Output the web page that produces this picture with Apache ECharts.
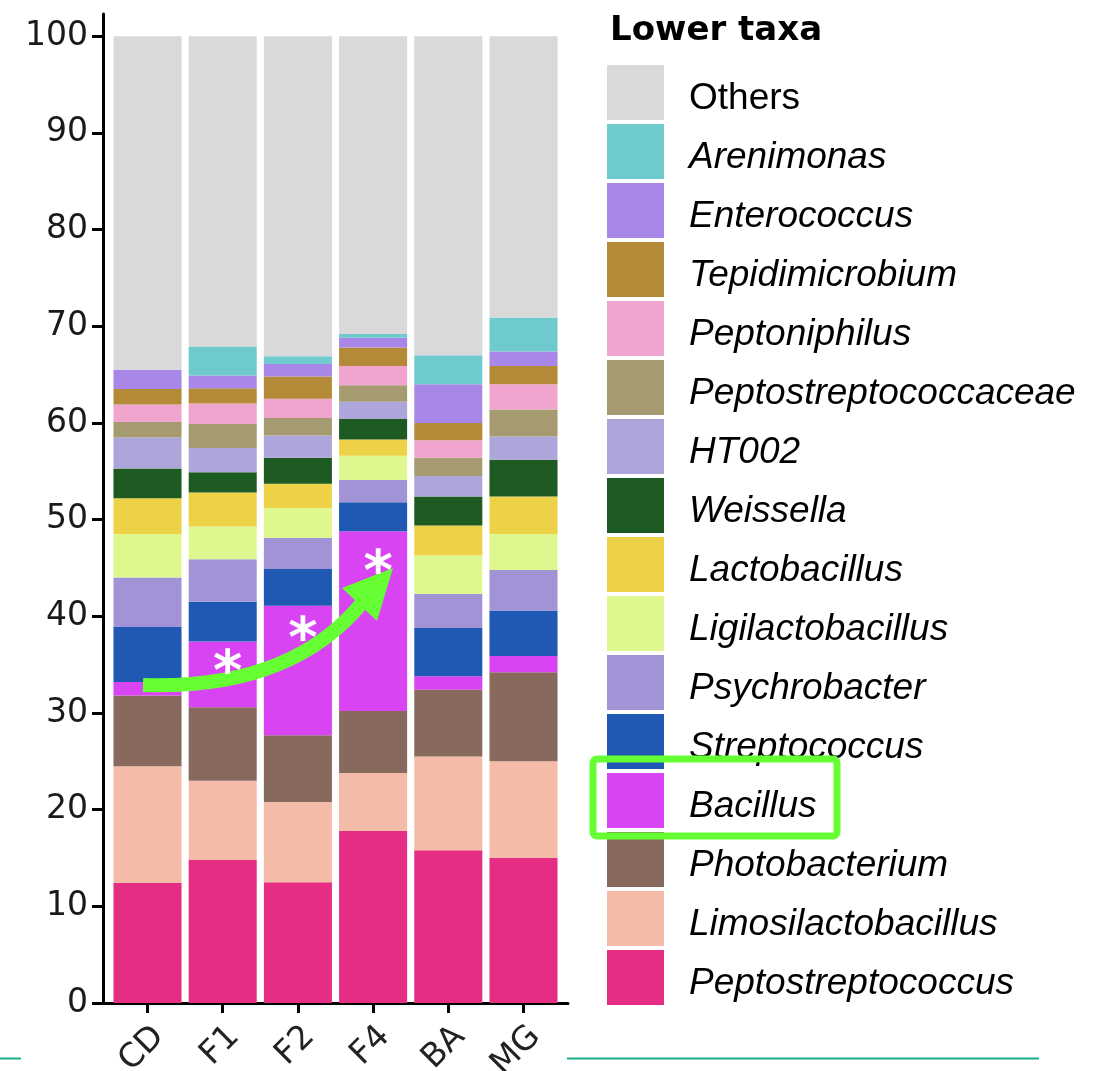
<!DOCTYPE html>
<html>
<head>
<meta charset="utf-8">
<title>Lower taxa</title>
<script src="https://cdn.jsdelivr.net/npm/echarts@6/dist/echarts.min.js"></script>
<style>
  html, body { margin: 0; padding: 0; background: #fff; }
  #chart { width: 1109px; height: 1071px; }
</style>
</head>
<body>
<div id="chart"></div>
<script>
// Samples on the x axis
const categories = ['CD', 'F1', 'F2', 'F4', 'BA', 'MG'];

// Relative abundance (%) per taxon, listed from the bottom of each stack upwards
const peptostreptococcus    = [12.4, 14.8, 12.5, 17.8, 15.8, 15.0];
const limosilactobacillus   = [12.1,  8.2,  8.3,  6.0,  9.7, 10.0];
const photobacterium        = [ 7.3,  7.6,  6.9,  6.4,  6.9,  9.2];
const bacillus              = [ 1.4,  6.8, 13.4, 18.6,  1.4,  1.7];
const streptococcus         = [ 5.7,  4.1,  3.8,  3.0,  5.0,  4.7];
const psychrobacter         = [ 5.1,  4.4,  3.2,  2.3,  3.5,  4.2];
const ligilactobacillus     = [ 4.5,  3.4,  3.1,  2.5,  4.0,  3.7];
const lactobacillus         = [ 3.7,  3.5,  2.5,  1.7,  3.1,  3.9];
const weissella             = [ 3.1,  2.1,  2.7,  2.1,  3.0,  3.8];
const ht002                 = [ 3.2,  2.5,  2.3,  1.8,  2.1,  2.4];
const peptostreptococcaceae = [ 1.6,  2.5,  1.8,  1.7,  1.9,  2.8];
const peptoniphilus         = [ 1.8,  2.1,  2.0,  2.0,  1.8,  2.6];
const tepidimicrobium       = [ 1.6,  1.6,  2.3,  1.9,  1.8,  1.9];
const enterococcus          = [ 2.0,  1.3,  1.3,  1.0,  4.0,  1.5];
const arenimonas            = [ 0.0,  3.0,  0.8,  0.4,  3.0,  3.5];
const others                = [34.5, 32.1, 33.1, 30.8, 33.0, 29.1];

// Y axis tick labels
const yTicks = [0, 10, 20, 30, 40, 50, 60, 70, 80, 90, 100];

// Significant increases of Bacillus (asterisks): sample and height in %
const starMarks = [
  { cat: 'F1', value: 35.1 },
  { cat: 'F2', value: 38.5 },
  { cat: 'F4', value: 45.5 }
];

const taxa = [
  { name: 'Peptostreptococcus',    data: peptostreptococcus,    color: '#E52D83' },
  { name: 'Limosilactobacillus',   data: limosilactobacillus,   color: '#F4BBA9' },
  { name: 'Photobacterium',        data: photobacterium,        color: '#87695D' },
  { name: 'Bacillus',              data: bacillus,              color: '#D944F2' },
  { name: 'Streptococcus',         data: streptococcus,         color: '#1F59B3' },
  { name: 'Psychrobacter',         data: psychrobacter,         color: '#A293D6' },
  { name: 'Ligilactobacillus',     data: ligilactobacillus,     color: '#DEF78F' },
  { name: 'Lactobacillus',         data: lactobacillus,         color: '#EDD248' },
  { name: 'Weissella',             data: weissella,             color: '#1E5B22' },
  { name: 'HT002',                 data: ht002,                 color: '#ACA6DA' },
  { name: 'Peptostreptococcaceae', data: peptostreptococcaceae, color: '#A59A70' },
  { name: 'Peptoniphilus',         data: peptoniphilus,         color: '#F0A5CF' },
  { name: 'Tepidimicrobium',       data: tepidimicrobium,       color: '#B38A38' },
  { name: 'Enterococcus',          data: enterococcus,          color: '#A887E8' },
  { name: 'Arenimonas',            data: arenimonas,            color: '#6FCACE' },
  { name: 'Others',                data: others,                color: '#D9D9D9' }
];

const Y_MAX = 102.3;
const TEXT_FONT = 'DejaVu Sans';
const LEGEND_FONT = '"Liberation Sans", Arial, sans-serif';
const GREEN = '#66FF33';

const chart = echarts.init(document.getElementById('chart'), null, { renderer: 'canvas' });

const series = taxa.map(t => ({
  name: t.name,
  type: 'bar',
  stack: 'total',
  xAxisIndex: 0,
  yAxisIndex: 0,
  barCategoryGap: '9.5%',
  itemStyle: { color: t.color },
  emphasis: { disabled: true },
  data: t.data
}));

const legendData = taxa.slice().reverse().map(t => t.name);

chart.setOption({
  animation: false,
  backgroundColor: '#fff',
  title: {
    text: 'Lower taxa',
    left: 605,
    top: 9,
    textStyle: { fontFamily: TEXT_FONT, fontWeight: 'bold', fontSize: 34, color: '#000' }
  },
  legend: {
    orient: 'vertical',
    left: 602,
    top: 60,
    itemWidth: 57,
    itemHeight: 55,
    itemGap: 4,
    icon: 'rect',
    selectedMode: false,
    data: legendData,
    // genus names in italics, the "Others" group upright; text sits slightly low beside its swatch
    formatter: name => (name === 'Others' ? '{s|}{n|' + name + '}' : '{s|}{i|' + name + '}'),
    textStyle: {
      padding: [0, 0, 0, 20],
      rich: {
        s: { lineHeight: 50, fontSize: 37, fontFamily: LEGEND_FONT },
        n: { fontFamily: LEGEND_FONT, fontSize: 37, color: '#000', lineHeight: 40, verticalAlign: 'bottom' },
        i: { fontFamily: LEGEND_FONT, fontSize: 37, color: '#000', fontStyle: 'italic', lineHeight: 40, verticalAlign: 'bottom' }
      }
    }
  },
  grid: [
    { left: 109.9, top: 14, width: 451.2, height: 989, outerBoundsMode: 'none', containLabel: false },
    { left: 103, top: 14, width: 465, height: 989, outerBoundsMode: 'none', containLabel: false }
  ],
  xAxis: [
    {
      gridIndex: 0,
      type: 'category',
      data: categories,
      axisLine: { show: false },
      axisTick: { show: true, alignWithLabel: true, length: 10, lineStyle: { color: '#000', width: 3 } },
      axisLabel: { rotate: 45, margin: 17, verticalAlign: 'top', fontSize: 33, fontFamily: TEXT_FONT, color: '#222' }
    },
    {
      gridIndex: 1,
      type: 'value',
      min: 0,
      max: 1,
      axisLine: { show: true, onZero: false, lineStyle: { color: '#000', width: 3 } },
      axisTick: { show: false },
      axisLabel: { show: false },
      splitLine: { show: false }
    }
  ],
  yAxis: [
    { gridIndex: 0, type: 'value', min: 0, max: Y_MAX, show: false, splitLine: { show: false } },
    {
      gridIndex: 1,
      type: 'value',
      min: 0,
      max: Y_MAX,
      interval: 10,
      axisLine: { show: true, onZero: false, lineStyle: { color: '#000', width: 3 } },
      axisTick: { show: true, length: 11, customValues: yTicks, lineStyle: { color: '#000', width: 3 } },
      axisLabel: { customValues: yTicks, margin: 15, fontSize: 33, fontFamily: TEXT_FONT, color: '#1a1a1a' },
      splitLine: { show: false }
    }
  ],
  series: series
});

// Annotations: curved arrow across the Bacillus segments, asterisks, highlight box and footer rules
const stars = starMarks.map(s => {
  const p = chart.convertToPixel({ gridIndex: 0 }, [categories.indexOf(s.cat), s.value]);
  return {
    type: 'text',
    x: p[0] + 5,
    y: p[1] + 11,
    z: 20,
    style: {
      text: '*',
      fill: '#fff',
      font: 'bold 56px "DejaVu Sans"',
      textAlign: 'center',
      textVerticalAlign: 'middle'
    }
  };
});

chart.setOption({
  graphic: [
    {
      type: 'bezierCurve',
      z: 15,
      shape: { x1: 143, y1: 685, cpx1: 290, cpy1: 690, x2: 362, y2: 603 },
      style: { stroke: GREEN, lineWidth: 14, fill: null }
    },
    {
      type: 'polygon',
      z: 15,
      shape: { points: [[393, 568], [342, 588], [377, 621]] },
      style: { fill: GREEN }
    },
    ...stars,
    {
      type: 'rect',
      z: 15,
      shape: { x: 593, y: 759, width: 244, height: 77, r: 4 },
      style: { stroke: GREEN, lineWidth: 7, fill: null }
    },
    {
      type: 'line',
      shape: { x1: 567, y1: 1058.5, x2: 1039, y2: 1058.5 },
      style: { stroke: '#1BAE8E', lineWidth: 2 }
    },
    {
      type: 'line',
      shape: { x1: 0, y1: 1058.5, x2: 21, y2: 1058.5 },
      style: { stroke: '#1BAE8E', lineWidth: 2 }
    }
  ]
});
</script>
</body>
</html>
